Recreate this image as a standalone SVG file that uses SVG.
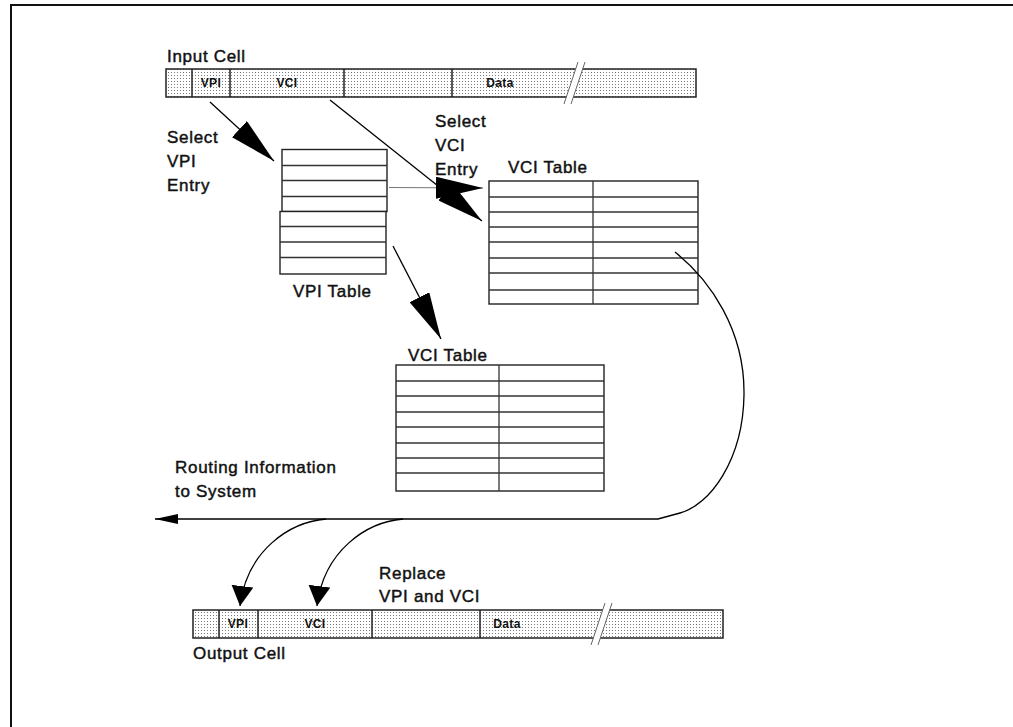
<svg xmlns="http://www.w3.org/2000/svg" width="1013" height="727" viewBox="0 0 1013 727">
  <style>
    .t{font-family:"Liberation Sans",Arial,sans-serif;font-size:17px;letter-spacing:0.7px;fill:#111;stroke:#111;stroke-width:0.45}
    .s{font-family:"Liberation Sans",Arial,sans-serif;font-size:12px;font-weight:bold;letter-spacing:0.4px;fill:#111;text-anchor:middle}
    .cell{fill:url(#dots);stroke:#222;stroke-width:1.5}
    .div{stroke:#222;stroke-width:1.5}
    .gap{fill:#fff;stroke:none}
    .slash{stroke:#666;stroke-width:1}
    .tbl{fill:#fff;stroke:#222;stroke-width:1.4}
    .row{stroke:#333;stroke-width:1.3}
    .conn{fill:none;stroke:#000;stroke-width:1.3}
    .thin{fill:none;stroke:#777;stroke-width:1.2}
  </style>
  <defs>
    <pattern id="dots" width="3" height="3" patternUnits="userSpaceOnUse">
      <rect width="3" height="3" fill="#fff"/>
      <rect width="1" height="1" fill="#7a7a7a"/>
    </pattern>
    <marker id="big" markerUnits="userSpaceOnUse" viewBox="0 0 48 22" markerWidth="48" markerHeight="22" refX="47" refY="11" orient="auto">
      <path d="M0,0 L47,11 L0,22 z" fill="#000"/>
    </marker>
    <marker id="mid" markerUnits="userSpaceOnUse" viewBox="0 0 21 22" markerWidth="21" markerHeight="22" refX="20" refY="11" orient="auto">
      <path d="M0,0 L20,11 L0,22 z" fill="#000"/>
    </marker>
    <marker id="small" markerUnits="userSpaceOnUse" viewBox="0 0 24 10" markerWidth="24" markerHeight="10" refX="23" refY="5" orient="auto">
      <path d="M0,0 L23,5 L0,10 z" fill="#000"/>
    </marker>
  </defs>

  <!-- page frame -->
  <path d="M11,727 L11,5 L1013,5" fill="none" stroke="#111" stroke-width="2"/>

  <!-- input cell -->
  <g id="input-cell">
    <text class="t" x="167" y="62">Input Cell</text>
    <rect class="cell" x="166" y="69" width="530" height="28"/>
    <line class="div" x1="192" y1="69" x2="192" y2="97"/>
    <line class="div" x1="230" y1="69" x2="230" y2="97"/>
    <line class="div" x1="344" y1="69" x2="344" y2="97"/>
    <line class="div" x1="452" y1="69" x2="452" y2="97"/>
    <polygon class="gap" points="576.3,67 583.3,67 572.7,99 565.7,99"/>
    <line class="slash" x1="564" y1="104" x2="578" y2="62"/>
    <line class="slash" x1="571" y1="104" x2="585" y2="62"/>
    <text class="s" x="211" y="87">VPI</text>
    <text class="s" x="287" y="87">VCI</text>
    <text class="s" x="500" y="87">Data</text>
  </g>

  <!-- VPI table -->
  <g id="vpi-table">
    <rect class="tbl" x="282" y="149.5" width="105" height="62"/>
    <rect class="tbl" x="280" y="211.5" width="106" height="62.5"/>
    <line class="row" x1="282" y1="165.5" x2="387" y2="165.5"/>
    <line class="row" x1="282" y1="180.5" x2="387" y2="180.5"/>
    <line class="row" x1="282" y1="196.5" x2="387" y2="196.5"/>
    <line class="row" x1="280" y1="226.5" x2="386" y2="226.5"/>
    <line class="row" x1="280" y1="242" x2="386" y2="242"/>
    <line class="row" x1="280" y1="257.5" x2="386" y2="257.5"/>
    <text class="t" x="293" y="297">VPI Table</text>
  </g>

  <!-- VCI table reached from the VPI entry -->
  <g id="vci-table-upper">
    <text class="t" x="508" y="173">VCI Table</text>
    <rect class="tbl" x="489" y="181" width="209" height="123"/>
    <line class="row" x1="593" y1="181" x2="593" y2="304"/>
    <line class="row" x1="489" y1="197" x2="698" y2="197"/>
    <line class="row" x1="489" y1="212" x2="698" y2="212"/>
    <line class="row" x1="489" y1="227" x2="698" y2="227"/>
    <line class="row" x1="489" y1="242" x2="698" y2="242"/>
    <line class="row" x1="489" y1="258" x2="698" y2="258"/>
    <line class="row" x1="489" y1="273" x2="698" y2="273"/>
    <line class="row" x1="489" y1="290" x2="698" y2="290"/>
  </g>

  <!-- second VCI table -->
  <g id="vci-table-lower">
    <text class="t" x="408" y="361">VCI Table</text>
    <rect class="tbl" x="396" y="365" width="208" height="126"/>
    <line class="row" x1="499" y1="365" x2="499" y2="491"/>
    <line class="row" x1="396" y1="381" x2="604" y2="381"/>
    <line class="row" x1="396" y1="396" x2="604" y2="396"/>
    <line class="row" x1="396" y1="412" x2="604" y2="412"/>
    <line class="row" x1="396" y1="427" x2="604" y2="427"/>
    <line class="row" x1="396" y1="443" x2="604" y2="443"/>
    <line class="row" x1="396" y1="458" x2="604" y2="458"/>
    <line class="row" x1="396" y1="473" x2="604" y2="473"/>
  </g>

  <!-- output cell -->
  <g id="output-cell">
    <rect class="cell" x="193" y="610" width="530" height="28"/>
    <line class="div" x1="219" y1="610" x2="219" y2="638"/>
    <line class="div" x1="258" y1="610" x2="258" y2="638"/>
    <line class="div" x1="372" y1="610" x2="372" y2="638"/>
    <line class="div" x1="480" y1="610" x2="480" y2="638"/>
    <polygon class="gap" points="603.3,608 610.3,608 599.7,640 592.7,640"/>
    <line class="slash" x1="591" y1="645" x2="605" y2="603"/>
    <line class="slash" x1="598" y1="645" x2="612" y2="603"/>
    <text class="s" x="238" y="628">VPI</text>
    <text class="s" x="315" y="628">VCI</text>
    <text class="s" x="507" y="628">Data</text>
    <text class="t" x="193" y="659">Output Cell</text>
  </g>

  <!-- annotations -->
  <g id="labels">
    <text class="t" x="167" y="143">Select</text>
    <text class="t" x="167" y="167">VPI</text>
    <text class="t" x="167" y="191">Entry</text>
    <text class="t" x="435" y="127">Select</text>
    <text class="t" x="435" y="151">VCI</text>
    <text class="t" x="435" y="175">Entry</text>
    <text class="t" x="175" y="473">Routing Information</text>
    <text class="t" x="175" y="497">to System</text>
    <text class="t" x="379" y="579">Replace</text>
    <text class="t" x="379" y="602">VPI and VCI</text>
  </g>

  <!-- connectors -->
  <g id="connectors">
    <line class="conn" x1="210" y1="102" x2="274" y2="161" marker-end="url(#big)"/>
    <line class="conn" x1="330" y1="100" x2="482" y2="221" marker-end="url(#big)"/>
    <line class="thin" x1="389" y1="187.5" x2="483" y2="188" marker-end="url(#big)"/>
    <line class="conn" x1="393" y1="246" x2="441" y2="339" marker-end="url(#big)"/>
    <path class="conn" d="M675,252 C710,280 745,330 744,395 C743,460 710,505 680,513 L658,519 L155,519" marker-end="url(#small)"/>
    <path class="conn" d="M326,519 C290,522 247,550 240,606" marker-end="url(#mid)"/>
    <path class="conn" d="M403,519 C367,522 324,550 317,606" marker-end="url(#mid)"/>
  </g>
</svg>
